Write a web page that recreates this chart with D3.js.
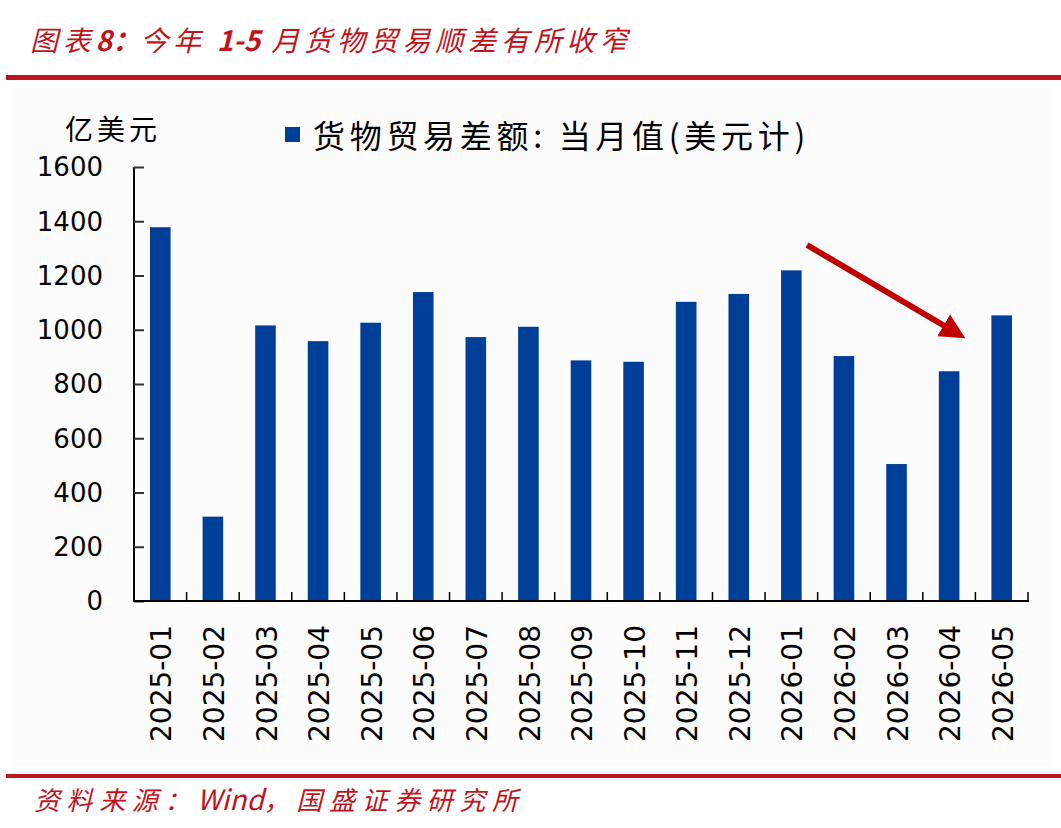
<!DOCTYPE html>
<html>
<head>
<meta charset="utf-8">
<script src="https://cdn.jsdelivr.net/npm/d3@7"></script>
<style>
  body { margin: 0; background: #fff; }
  svg { display: block; }
</style>
</head>
<body>
<div id="chart"></div>
<script>
// Datos del gráfico
const months = ["2025-01", "2025-02", "2025-03", "2025-04", "2025-05", "2025-06", "2025-07", "2025-08", "2025-09",
                "2025-10", "2025-11", "2025-12", "2026-01", "2026-02", "2026-03", "2026-04", "2026-05"];
const tradeBalance = [1378, 311, 1016, 958, 1026, 1139, 973, 1011, 887, 882, 1103, 1132, 1219, 903, 505, 847, 1053];
const yTicks = [0, 200, 400, 600, 800, 1000, 1200, 1400, 1600];

// trozos del título y de la fuente: [texto, negrita/latino]
const titleParts = [["图表", false], ["8：", true], ["今年 ", false], ["1-5", true], [" 月货物贸易顺差有所收窄", false]];
const sourceParts = [["资料来源：", false], ["Wind", true], ["，国盛证券研究所", false]];
const legendText = "货物贸易差额: 当月值(美元计)";
const unitText = "亿美元";

const width = 1061;
const height = 828;
const red = "#c0141c";
const barColor = "#003f97";
const cjk = "'Noto Sans CJK SC', sans-serif";
const num = "'DejaVu Sans', sans-serif";

const svg = d3.select("#chart")
              .append("svg")
              .attr("width", width)
              .attr("height", height);

// fondo ligeramente gris de la zona del gráfico
svg.append("rect")
   .attr("x", 14).attr("y", 88)
   .attr("width", 1036).attr("height", 678)
   .attr("fill", "#fcfcfc");

// Título y líneas rojas
svg.append("text")
   .attr("x", 30).attr("y", 51)
   .attr("fill", red)
   .attr("font-family", cjk)
   .attr("font-style", "italic")
   .attr("font-size", 28)
   .selectAll("tspan")
   .data(titleParts)
   .enter()
   .append("tspan")
   .attr("font-weight", d => d[1] ? "bold" : null)
   .attr("letter-spacing", d => d[1] ? 0 : 4.8)
   .text(d => d[0]);

svg.append("rect").attr("x", 6).attr("y", 75).attr("width", 1055).attr("height", 5).attr("fill", red);
svg.append("rect").attr("x", 6).attr("y", 774).attr("width", 1055).attr("height", 4).attr("fill", red);

svg.append("text")
   .attr("x", 34).attr("y", 810)
   .attr("fill", red)
   .attr("font-family", cjk)
   .attr("font-style", "italic")
   .attr("font-size", 26)
   .selectAll("tspan")
   .data(sourceParts)
   .enter()
   .append("tspan")
   .attr("font-size", d => d[1] ? 28 : null)
   .attr("letter-spacing", d => d[1] ? 0 : 6.6)
   .text(d => d[0]);

// Escalas
const xOuter = d3.scaleBand().domain(months).range([134, 1028]);

const y = d3.scaleLinear()
            .domain([0, 1600])
            .range([601, 167]);

// Barras
svg.append("g")
   .selectAll("rect")
   .data(tradeBalance)
   .enter()
   .append("rect")
   .attr("x", (d, i) => xOuter(months[i]) + xOuter.bandwidth() / 2 - 10.3)
   .attr("width", 20.6)
   .attr("y", d => y(d))
   .attr("height", d => y(0) - y(d))
   .attr("fill", barColor);

// Eje Y
const yAxis = svg.append("g")
   .attr("transform", "translate(134,0)")
   .call(d3.axisRight(y).tickValues(yTicks).tickSize(10).tickFormat(""));
yAxis.select(".domain").attr("stroke", "#000").attr("stroke-width", 2).attr("d", "M0,167V601");
yAxis.selectAll(".tick line").attr("stroke", "#333").attr("stroke-width", 2);

svg.append("g")
   .selectAll("text")
   .data(yTicks)
   .enter()
   .append("text")
   .attr("x", 103)
   .attr("y", d => y(d))
   .attr("dy", "0.36em")
   .attr("text-anchor", "end")
   .attr("font-family", num)
   .attr("font-size", 26)
   .attr("fill", "#000")
   .text(d => d);

// Eje X
const xAxis = svg.append("g")
   .attr("transform", "translate(0,601)");
xAxis.append("line")
   .attr("x1", 133).attr("x2", 1029)
   .attr("stroke", "#000").attr("stroke-width", 2);
xAxis.selectAll(".tk")
   .data(months)
   .enter()
   .append("line")
   .attr("x1", d => xOuter(d) + xOuter.bandwidth())
   .attr("x2", d => xOuter(d) + xOuter.bandwidth())
   .attr("y1", 0).attr("y2", -9)
   .attr("stroke", "#000").attr("stroke-width", 1.5);

xAxis.selectAll(".lbl")
   .data(months)
   .enter()
   .append("text")
   .attr("transform", d => `translate(${xOuter(d) + xOuter.bandwidth() / 2 + 1},24) rotate(-90)`)
   .attr("text-anchor", "end")
   .attr("dy", "0.36em")
   .attr("font-family", num)
   .attr("font-size", 28)
   .attr("fill", "#000")
   .text(d => d);

// Unidad y leyenda
svg.append("text")
   .attr("x", 65).attr("y", 140)
   .attr("font-family", cjk)
   .attr("font-size", 28)
   .attr("letter-spacing", 4)
   .attr("fill", "#000")
   .text(unitText);

svg.append("rect")
   .attr("x", 285).attr("y", 127)
   .attr("width", 15).attr("height", 15)
   .attr("fill", barColor);

svg.append("text")
   .attr("x", 313).attr("y", 148)
   .attr("font-family", cjk)
   .attr("font-size", 32)
   .attr("letter-spacing", 4.7)
   .attr("fill", "#000")
   .text(legendText);

// Flecha roja
const defs = svg.append("defs");
defs.append("marker")
    .attr("id", "head")
    .attr("viewBox", "0 0 10 10")
    .attr("refX", 2).attr("refY", 5)
    .attr("markerWidth", 4.2).attr("markerHeight", 4.4)
    .attr("markerUnits", "strokeWidth")
    .attr("orient", "auto")
    .append("path")
    .attr("d", "M0,0L10,5L0,10Z")
    .attr("fill", "#c00000");

svg.append("line")
   .attr("x1", 807).attr("y1", 245)
   .attr("x2", 948).attr("y2", 328)
   .attr("stroke", "#c00000")
   .attr("stroke-width", 6)
   .attr("marker-end", "url(#head)");
</script>
</body>
</html>
